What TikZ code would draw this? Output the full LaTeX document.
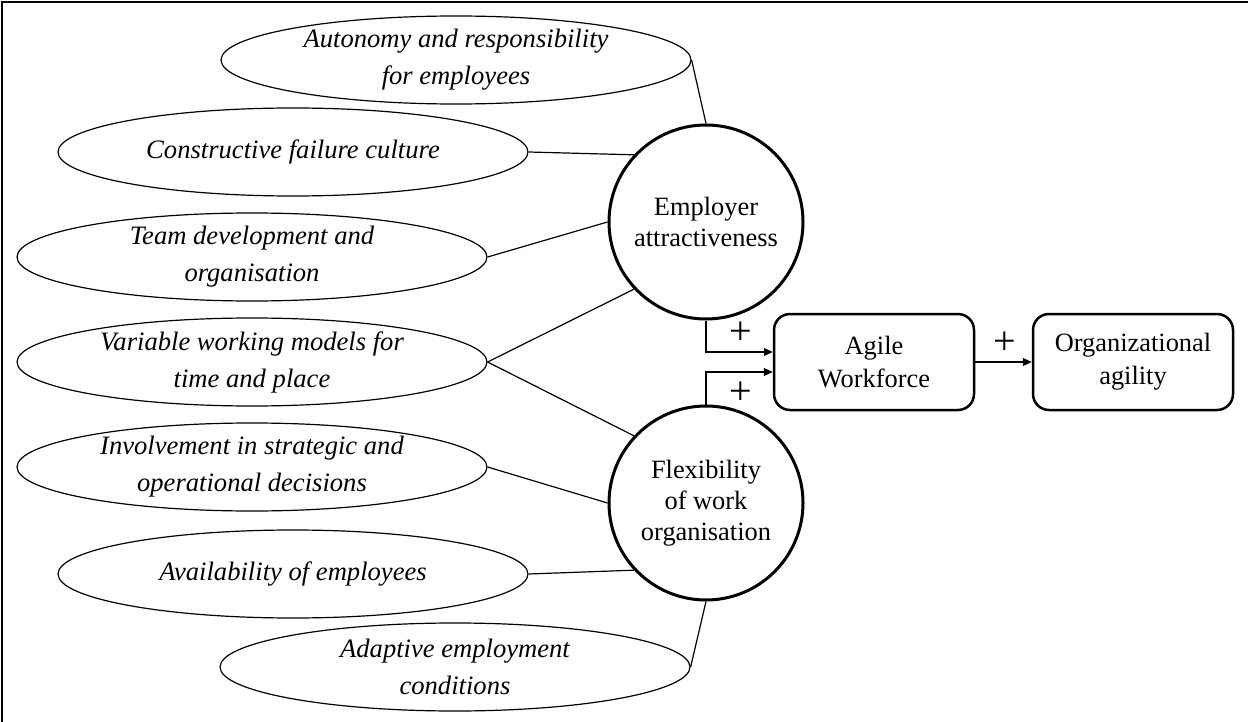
\documentclass[tikz,border=0pt]{standalone}
\usepackage{fontspec}
\setmainfont{Liberation Serif}
\usetikzlibrary{shapes.geometric,arrows.meta}
\begin{document}
\begin{tikzpicture}[x=1pt,y=-1pt,
  factor/.style={ellipse,draw,line width=1.2pt,minimum width=470pt,minimum height=88pt,
    inner sep=0pt,align=center,font=\fontsize{26.6}{37}\selectfont\itshape},
  construct/.style={circle,draw,line width=3pt,minimum size=194pt,inner sep=0pt,
    align=center,font=\fontsize{26.4}{31}\selectfont},
  outcome/.style={rectangle,rounded corners=16pt,draw,line width=2.5pt,
    minimum width=200pt,minimum height=96pt,align=center,font=\fontsize{26.4}{33}\selectfont},
  link/.style={line width=1.2pt},
  effect/.style={line width=1.2pt,-{Triangle[length=9pt,width=8pt]}},
  sign/.style={font=\fontsize{40}{40}\selectfont,inner sep=0pt}]
\useasboundingbox (0,0) rectangle (1248,722);
\fill[white] (0,0) rectangle (1248,722);
% outer frame
\draw[line width=2pt] (2,722) -- (2,2) -- (1248,2);

% practices
\node[factor] (e1) at (456,60)  {Autonomy and responsibility\\for employees};
\node[factor] (e2) at (293,152) {Constructive failure culture};
\node[factor] (e3) at (252,257) {Team development and\\organisation};
\node[factor] (e4) at (252,362) {Variable working models for\\time and place};
\node[factor] (e5) at (252,467) {Involvement in strategic and\\operational decisions};
\node[factor] (e6) at (293,574) {Availability of employees};
\node[factor] (e7) at (455,667) {Adaptive employment\\conditions};

% constructs
\node[construct] (ea) at (706,222) {Employer\\attractiveness};
\node[construct] (fw) at (706,503) {Flexibility\\of work\\organisation};

% outcomes
\node[outcome] (aw) at (874,362)  {Agile\\Workforce};
\node[outcome] (oa) at (1133,362) {Organizational\\agility};

% links from practices to constructs
\draw[link] (e1.0) -- (ea.90);
\draw[link] (e2.0) -- (ea.137);
\draw[link] (e3.0) -- (ea.180);
\draw[link] (e4.0) -- (ea.223);
\draw[link] (e4.0) -- (fw.137);
\draw[link] (e5.0) -- (fw.180);
\draw[link] (e6.0) -- (fw.223);
\draw[link] (e7.0) -- (fw.270);

% effects
\draw[effect] (ea.south) |- ([yshift=10pt]aw.west);
\draw[effect] (fw.north) |- ([yshift=-10pt]aw.west);
\draw[effect] (aw.east) -- (oa.west);

\node[sign] (p1) at (741,333) {+};
\node[sign] (p2) at (741,393) {+};
\node[sign] (p3) at (1005,343) {+};
\end{tikzpicture}
\end{document}
